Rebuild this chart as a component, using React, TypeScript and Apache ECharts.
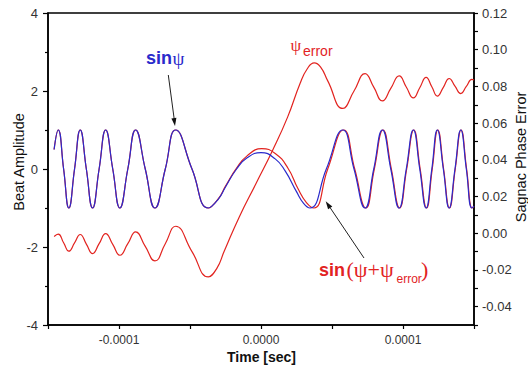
import React, { useEffect, useRef } from 'react';
import * as echarts from 'echarts';

// Time in microseconds (axis labels are shown in seconds)
const timeSin = [
  -145.7, -142.8, -139.0, -135.3, -131.3, -127.3, -123.0, -118.6, -114.0, -109.4,
  -104.4, -99.4, -93.8, -88.3, -81.5, -74.7, -67.4, -60.1, -48.6, -37.1,
  -30, -25, -17.2, -10, 0, 10, 17, 25, 30, 34.5,
  46, 57.6, 65.5, 73.3, 79.4, 85.5, 91.4, 97.3, 102.3, 107.3,
  111.8, 116.3, 120.3, 124.2, 128.4, 132.5, 136.6, 140.7, 144.6, 148.5, 150,
];
const sinPsi = [
  0.5, 1, 0, -1, 0, 1, 0, -1, 0, 1,
  0, -1, 0, 1, 0, -1, 0, 1, 0, -1,
  -0.77, -0.46, 0, 0.28, 0.42, 0.26, -0.05, -0.58, -0.88, -1,
  0, 1, 0, -1, 0, 1, 0, -1, 0, 1,
  0, -1, 0, 1, 0, -1, 0, 1, 0, -1, -0.95,
];

const timeSinErr = [
  -145.7, -142.8, -139.0, -135.3, -131.3, -127.3, -123.0, -118.6, -114.0, -109.4,
  -104.4, -99.4, -93.8, -88.3, -81.5, -74.7, -67.4, -60.1, -48.6, -37.1,
  -30, -25, -17.2, -10, 0.5, 10, 19, 26, 32, 37.3,
  47, 58.2, 66, 73.8, 79.8, 85.9, 91.8, 97.6, 102.6, 107.6,
  112.1, 116.6, 120.6, 124.5, 128.6, 132.7, 136.8, 140.9, 144.8, 148.7, 150,
];
const sinPsiErr = [
  0.5, 1, 0, -1, 0, 1, 0, -1, 0, 1,
  0, -1, 0, 1, 0, -1, 0, 1, 0, -1,
  -0.76, -0.44, 0.02, 0.33, 0.52, 0.4, 0.02, -0.5, -0.86, -1,
  0, 1, 0, -1, 0, 1, 0, -1, 0, 1,
  0, -1, 0, 1, 0, -1, 0, 1, 0, -1, -0.96,
];

const timeErr = [
  -145.7, -142.8, -139.0, -135.3, -131.3, -127.3, -123.0, -118.6, -114.0, -109.4,
  -104.4, -99.4, -93.8, -88.3, -81.5, -74.7, -67.4, -60.1, -48.6, -37.1,
  -31, -26, -15.3, -3.5, 8.2, 18.8, 27.5, 32.5, 37.5, 42, 47,
  57.6, 65.5, 73.3, 79.4, 85.5, 91.4, 97.3, 102.3, 107.3, 111.8,
  116.3, 120.3, 124.2, 128.4, 132.5, 136.6, 140.7, 144.6, 148.5, 150,
];
const psiError = [
  -0.0018, -0.0005, -0.0052, -0.0098, -0.0053, -0.0007, -0.0059, -0.0111, -0.0057, -0.0002,
  -0.0061, -0.012, -0.0057, 0.0007, -0.0072, -0.0151, -0.0057, 0.0038, -0.01, -0.0238,
  -0.019, -0.01, 0.0089, 0.0271, 0.0452, 0.0634, 0.0816, 0.0895, 0.0928, 0.0905, 0.083,
  0.068, 0.0775, 0.087, 0.0796, 0.0721, 0.0789, 0.0857, 0.0797, 0.0737, 0.0793,
  0.0849, 0.0798, 0.0747, 0.0795, 0.0843, 0.0802, 0.0761, 0.08, 0.0838, 0.0835,
];

const xTickValues = [-100, 0, 100];
const xTickTexts = ['-0.0001', '0.0000', '0.0001'];

const BLUE = '#2a2acb';
const RED = '#e2231f';
const SANS = 'Liberation Sans, Arial, sans-serif';
const SERIF = 'Liberation Serif, Times New Roman, serif';

const pairs = (t: number[], v: number[]) => t.map((x, i) => [x, v[i]]);

function txt(text: string, x: number, y: number, font: string, fill: string, extra: any = {}) {
  return {
    type: 'text',
    x,
    y,
    silent: true,
    ...extra,
    style: { text, font, fill, align: 'left', verticalAlign: 'middle', textAlign: 'left', textVerticalAlign: 'middle', ...(extra.style || {}) },
  };
}

export default function App() {
  const ref = useRef<HTMLDivElement>(null);
  useEffect(() => {
    document.body.style.margin = '0';
    const chart = echarts.init(ref.current!, undefined, { renderer: 'svg' });
    const axisLine = { show: true, onZero: false, lineStyle: { color: '#000', width: 1.5 } };
    chart.setOption({
      animation: false,
      backgroundColor: '#fff',
      grid: { left: 48, right: 54, top: 13, bottom: 42, show: true, borderColor: '#000', borderWidth: 1.5, backgroundColor: 'transparent' },
      xAxis: {
        type: 'value', min: -150, max: 150, interval: 50,
        axisLine, splitLine: { show: false },
        axisTick: { show: true, length: 4, lineStyle: { color: '#000', width: 1.2 } },
        axisLabel: {
          margin: 9, fontSize: 12, fontFamily: SANS, color: '#333',
          formatter: (v: number) => {
            const i = xTickValues.indexOf(Math.round(v));
            return i >= 0 ? xTickTexts[i] : '';
          },
        },
      },
      yAxis: [
        {
          type: 'value', min: -4, max: 4, interval: 2,
          axisLine, splitLine: { show: false },
          axisTick: { show: true, length: 5, lineStyle: { color: '#000', width: 1.2 } },
          minorTick: { show: true, splitNumber: 2, length: 3, lineStyle: { color: '#000', width: 1.2 } },
          axisLabel: { margin: 10, fontSize: 13, fontFamily: SANS, color: '#333' },
        },
        {
          type: 'value', position: 'right', min: -0.05, max: 0.12, interval: 0.01,
          axisLine, splitLine: { show: false },
          axisTick: { show: true, length: 4, lineStyle: { color: '#000', width: 1.2 } },
          axisLabel: {
            margin: 8, fontSize: 13, fontFamily: SANS, color: '#333',
            formatter: (v: number) => {
              const r = Math.round(v * 100);
              return r % 2 === 0 ? (r / 100).toFixed(2) : '';
            },
          },
        },
      ],
      series: [
        {
          name: 'psiError', type: 'line', yAxisIndex: 1, data: pairs(timeErr, psiError),
          smooth: true, symbol: 'none', lineStyle: { color: RED, width: 1.2 }, z: 2,
        },
        {
          name: 'sinPsiErr', type: 'line', yAxisIndex: 0, data: pairs(timeSinErr, sinPsiErr),
          smooth: true, symbol: 'none', lineStyle: { color: RED, width: 1.2 }, z: 3,
        },
        {
          name: 'sinPsi', type: 'line', yAxisIndex: 0, data: pairs(timeSin, sinPsi),
          smooth: true, symbol: 'none', lineStyle: { color: BLUE, width: 1.2 }, z: 4,
        },
      ],
      graphic: [
        // axis names
        txt('Beat Amplitude', 18.5, 162, `14.5px ${SANS}`, '#111', { rotation: Math.PI / 2, style: { align: 'center', textAlign: 'center' } }),
        txt('Sagnac Phase Error', 521, 157, `14.5px ${SANS}`, '#111', { rotation: Math.PI / 2, style: { align: 'center', textAlign: 'center' } }),
        txt('Time [sec]', 261.5, 356.5, `bold 14px ${SANS}`, '#111', { style: { align: 'center', textAlign: 'center' } }),
        // sin psi label
        txt('sin', 146, 58, `bold 18px ${SANS}`, BLUE),
        txt('ψ', 172.5, 58, `19px ${SERIF}`, BLUE),
        // psi_error label
        txt('ψ', 290.5, 45.5, `17px ${SERIF}`, RED),
        txt('error', 303, 50.5, `14px ${SANS}`, RED),
        // sin(psi + psi_error) label
        txt('sin', 319, 270, `bold 18px ${SANS}`, RED),
        txt('(ψ+ψ', 346.5, 269.5, `22px ${SERIF}`, RED),
        txt('error', 396.5, 279, `12px ${SANS}`, RED),
        txt(')', 421, 269.5, `22px ${SERIF}`, RED),
        // arrows
        { type: 'line', silent: true, shape: { x1: 168.3, y1: 75, x2: 174.2, y2: 119 }, style: { stroke: '#222', lineWidth: 1 } },
        { type: 'polygon', silent: true, shape: { points: [[175, 126], [176.4, 117.8], [171.4, 118.4]] }, style: { fill: '#111' } },
        { type: 'line', silent: true, shape: { x1: 364, y1: 258, x2: 330, y2: 207.5 }, style: { stroke: '#222', lineWidth: 1 } },
        { type: 'polygon', silent: true, shape: { points: [[325.7, 201.3], [332.3, 206.5], [328.1, 209.3]] }, style: { fill: '#111' } },
      ],
    });
    return () => chart.dispose();
  }, []);
  return <div ref={ref} style={{ width: 528, height: 367, background: '#fff' }} />;
}
